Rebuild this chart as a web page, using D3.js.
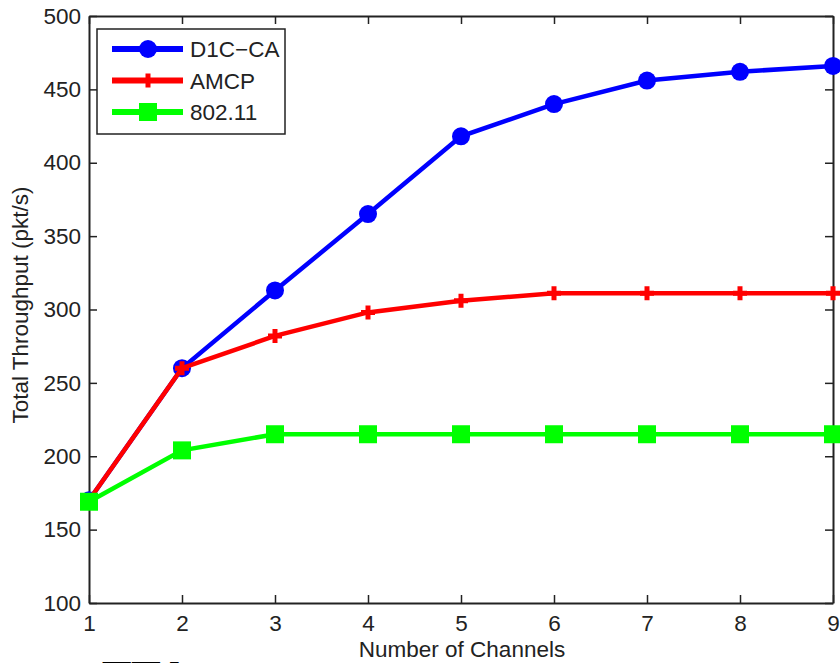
<!DOCTYPE html>
<html>
<head>
<meta charset="UTF-8">
<style>
body { margin: 0; background: #fff; }
text { font-family: "Liberation Sans", Arial, sans-serif; fill: #222; }
</style>
</head>
<body>
<svg width="840" height="663"></svg>
<script src="https://d3js.org/d3.v7.min.js"></script>
<script>
// channels on the x axis
var channels = [1, 2, 3, 4, 5, 6, 7, 8, 9];
var d1cca = [170, 260, 313, 365, 418, 440, 456, 462, 466];
var amcp = [170, 260, 282, 298, 306, 311, 311, 311, 311];
var wifi = [169, 204, 215, 215, 215, 215, 215, 215, 215];
var seriesNames = ["D1C\u2212CA", "AMCP", "802.11"];
var xTicks = [1, 2, 3, 4, 5, 6, 7, 8, 9];
var yTicks = [100, 150, 200, 250, 300, 350, 400, 450, 500];

var svg = d3.select("svg"),
    margin = {top: 16, right: 7, bottom: 60, left: 89},
    width = 840 - margin.left - margin.right,
    height = 663 - margin.top - margin.bottom,
    g = svg.append("g").attr("transform", "translate(" + margin.left + "," + margin.top + ")");

var x = d3.scaleLinear().domain([1, 9]).range([0, width]),
    y = d3.scaleLinear().domain([100, 500]).range([height, 0]);

var series = [
  {name: seriesNames[0], values: d1cca, color: "#0000ff", marker: "circle"},
  {name: seriesNames[1], values: amcp, color: "#ff0000", marker: "plus"},
  {name: seriesNames[2], values: wifi, color: "#00ff00", marker: "square"}
];

var line = d3.line()
    .x(function(d, i) { return x(channels[i]); })
    .y(function(d) { return y(d); });

function drawMarker(sel, type, color) {
  if (type == "circle") {
    sel.append("circle").attr("r", 9).attr("fill", color);
  } else if (type == "square") {
    sel.append("rect").attr("x", -9).attr("y", -9).attr("width", 18).attr("height", 18).attr("fill", color);
  } else {
    sel.append("path").attr("d", "M-7,0H7M0,-7V7")
      .attr("stroke", color).attr("stroke-width", 5).attr("fill", "none");
  }
}

// axes, ticks inward on all four sides
var frame = g.append("g");
frame.append("g")
    .attr("transform", "translate(0," + height + ")")
    .call(d3.axisBottom(x).tickValues(xTicks).tickSizeInner(-8).tickSizeOuter(0).tickPadding(12));
frame.append("g")
    .call(d3.axisLeft(y).tickValues(yTicks).tickSizeInner(-8).tickSizeOuter(0).tickPadding(8));
frame.append("g")
    .call(d3.axisTop(x).tickValues(xTicks).tickSizeInner(-8).tickSizeOuter(0).tickFormat(""));
frame.append("g")
    .attr("transform", "translate(" + width + ",0)")
    .call(d3.axisRight(y).tickValues(yTicks).tickSizeInner(-8).tickSizeOuter(0).tickFormat(""));
frame.selectAll("path.domain").attr("stroke", "#222").attr("stroke-width", 2);
frame.selectAll(".tick line").attr("stroke", "#222").attr("stroke-width", 1.5);
frame.selectAll(".tick text")
    .style("font-family", "'Liberation Sans', Arial, sans-serif")
    .style("font-size", "22.5px").attr("fill", "#222");

// series
series.forEach(function(s) {
  g.append("path")
      .datum(s.values)
      .attr("fill", "none")
      .attr("stroke", s.color)
      .attr("stroke-width", 4.5)
      .attr("d", line);
  g.selectAll(null)
    .data(s.values)
    .enter().append("g")
      .attr("transform", function(d, i) { return "translate(" + x(channels[i]) + "," + y(d) + ")"; })
      .each(function() { drawMarker(d3.select(this), s.marker, s.color); });
});

// legend
var legend = g.append("g").attr("transform", "translate(8,13)");
legend.append("rect")
    .attr("width", 188).attr("height", 105)
    .attr("fill", "#fff").attr("stroke", "#222").attr("stroke-width", 1.5);
series.forEach(function(s, i) {
  var row = legend.append("g").attr("transform", "translate(0," + (20 + i * 31.5) + ")");
  row.append("line").attr("x1", 15).attr("x2", 86)
      .attr("stroke", s.color).attr("stroke-width", 6);
  var m = row.append("g").attr("transform", "translate(51,0)");
  drawMarker(m, s.marker, s.color);
  row.append("text").attr("x", 93).attr("dy", "0.36em")
      .style("font-size", "22.5px").text(s.name);
});

// axis titles
svg.append("text")
    .attr("x", 462).attr("y", 657)
    .attr("text-anchor", "middle")
    .style("font-size", "22.5px")
    .text("Number of Channels");
svg.append("text")
    .attr("transform", "translate(28,305) rotate(-90)")
    .attr("text-anchor", "middle")
    .style("font-size", "22.5px")
    .text("Total Throughput (pkt/s)");

// heading of the next section, cut by the bottom edge
svg.append("text")
    .attr("x", 102).attr("y", 695)
    .style("font-size", "48px").style("font-weight", "bold")
    .style("fill", "#000")
    .text("TTA");
</script>
</body>
</html>
